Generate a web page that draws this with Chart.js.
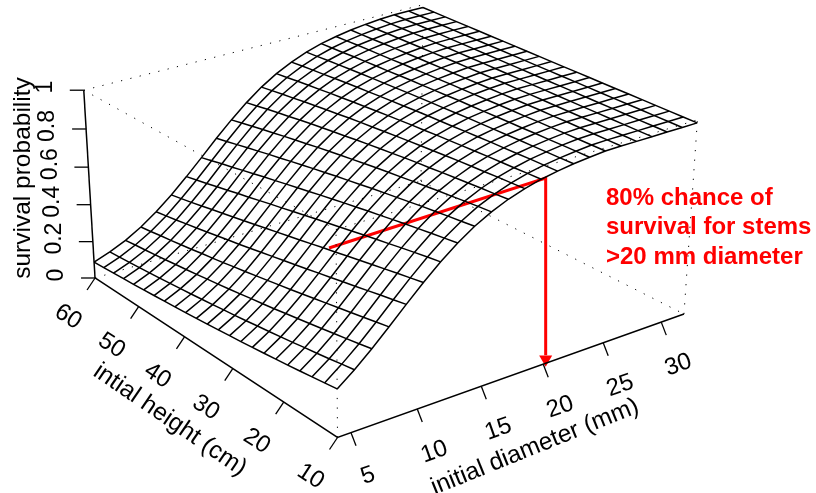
<!DOCTYPE html>
<html lang="en">
<head>
<meta charset="UTF-8">
<title>Survival probability surface</title>
<script src="https://cdn.jsdelivr.net/npm/chart.js@4/dist/chart.umd.min.js"></script>
<style>
    body { margin: 0; background: #fff; }
    canvas { display: block; }
</style>
</head>
<body>
<canvas id="myChart" width="816" height="493"></canvas>
<script>
    // values
    let diameters = [4, 5.27, 6.55, 7.82, 9.09, 10.36, 11.64, 12.91, 14.18, 15.45, 16.73, 18, 19.27, 20.55, 21.82, 23.09, 24.36, 25.64, 26.91, 28.18, 29.45, 30.73, 32];
    let heights = [60, 57.73, 55.45, 53.18, 50.91, 48.64, 46.36, 44.09, 41.82, 39.55, 37.27, 35, 32.73, 30.45, 28.18, 25.91, 23.64, 21.36, 19.09, 16.82, 14.55, 12.27, 10];

    // one row per height, one column per diameter
    let survival = [
        [.088, .118, .156, .204, .263, .331, .407, .487, .569, .646, .717, .779, .830, .871, .904, .929, .947, .962, .972, .980, .985, .985, .985],
        [.092, .124, .164, .213, .273, .343, .420, .501, .582, .659, .728, .788, .837, .877, .908, .932, .950, .963, .973, .981, .985, .985, .985],
        [.097, .130, .171, .223, .284, .355, .433, .515, .595, .671, .739, .797, .845, .883, .913, .935, .953, .965, .975, .982, .985, .985, .985],
        [.102, .136, .179, .232, .296, .368, .447, .528, .608, .683, .749, .805, .852, .888, .917, .939, .955, .967, .976, .983, .985, .985, .985],
        [.107, .142, .187, .242, .307, .381, .460, .542, .621, .694, .759, .814, .858, .894, .921, .942, .957, .969, .977, .984, .985, .985, .985],
        [.112, .149, .196, .252, .319, .394, .474, .555, .634, .706, .769, .822, .865, .899, .925, .945, .959, .970, .979, .984, .985, .985, .985],
        [.118, .156, .204, .263, .331, .407, .487, .569, .646, .717, .779, .830, .871, .904, .929, .947, .962, .972, .980, .985, .985, .985, .985],
        [.124, .164, .213, .273, .343, .420, .501, .582, .659, .728, .788, .837, .877, .908, .932, .950, .963, .973, .981, .985, .985, .985, .985],
        [.130, .171, .223, .284, .355, .433, .515, .595, .671, .739, .797, .845, .883, .913, .935, .953, .965, .975, .982, .985, .985, .985, .985],
        [.136, .179, .232, .296, .368, .447, .528, .608, .683, .749, .805, .852, .888, .917, .939, .955, .967, .976, .983, .985, .985, .985, .985],
        [.142, .187, .242, .307, .381, .460, .542, .621, .694, .759, .814, .858, .894, .921, .942, .957, .969, .977, .984, .985, .985, .985, .985],
        [.149, .196, .252, .319, .394, .474, .555, .634, .706, .769, .822, .865, .899, .925, .945, .959, .970, .979, .984, .985, .985, .985, .985],
        [.156, .204, .263, .331, .407, .487, .569, .646, .717, .779, .830, .871, .904, .929, .947, .962, .972, .980, .985, .985, .985, .985, .985],
        [.164, .213, .273, .343, .420, .501, .582, .659, .728, .788, .837, .877, .908, .932, .950, .963, .973, .981, .985, .985, .985, .985, .985],
        [.171, .223, .284, .355, .433, .515, .595, .671, .739, .797, .845, .883, .913, .935, .953, .965, .975, .982, .985, .985, .985, .985, .985],
        [.179, .232, .296, .368, .447, .528, .608, .683, .749, .805, .852, .888, .917, .939, .955, .967, .976, .983, .985, .985, .985, .985, .985],
        [.187, .242, .307, .381, .460, .542, .621, .694, .759, .814, .858, .894, .921, .942, .957, .969, .977, .984, .985, .985, .985, .985, .985],
        [.196, .252, .319, .394, .474, .555, .634, .706, .769, .822, .865, .899, .925, .945, .959, .970, .979, .984, .985, .985, .985, .985, .985],
        [.204, .263, .331, .407, .487, .569, .646, .717, .779, .830, .871, .904, .929, .947, .962, .972, .980, .985, .985, .985, .985, .985, .985],
        [.213, .273, .343, .420, .501, .582, .659, .728, .788, .837, .877, .908, .932, .950, .963, .973, .981, .985, .985, .985, .985, .985, .985],
        [.223, .284, .355, .433, .515, .595, .671, .739, .797, .845, .883, .913, .935, .953, .965, .975, .982, .985, .985, .985, .985, .985, .985],
        [.232, .296, .368, .447, .528, .608, .683, .749, .805, .852, .888, .917, .939, .955, .967, .976, .983, .985, .985, .985, .985, .985, .985],
        [.242, .307, .381, .460, .542, .621, .694, .759, .814, .858, .894, .921, .942, .957, .969, .977, .984, .985, .985, .985, .985, .985, .985]
    ];

    let diameterTicks = [5, 10, 15, 20, 25, 30];
    let heightTicks = [10, 20, 30, 40, 50, 60];
    let probabilityTicks = [0, 0.2, 0.4, 0.6, 0.8, 1];

    // the red annotation: level line along the front edge, then drop to the axis
    let redLineDiameter = [3.5, 20.2];
    let redLineProbability = [0.925, 0.93];
    let noteLines = ['80% chance of', 'survival for stems', '>20 mm diameter'];

    let dMin = 4, dMax = 32, hMin = 10, hMax = 60;

    // perspective view of the box, same idea as R's persp()
    // origin is the front corner (dMin, hMin, 0)
    function project(d, h, p) {
        let u = (d - dMin) / (dMax - dMin);
        let v = (h - hMin) / (hMax - hMin);
        let w = 1 + u * 0.0965 + v * 0.1408 - p * 0.045;
        return {
            x: 337.5 + (u * 379.9 - v * 276.6 - p * 1.43) / w,
            y: 437.5 + (-u * 135.4 - v * 181.96 - p * 198.6) / w
        };
    }

    function lineSet(points, color, width, dash) {
        return {
            type: 'line',
            data: points,
            borderColor: color,
            borderWidth: width,
            borderDash: dash || [],
            pointRadius: 0,
            tension: 0,
            fill: false,
            clip: false
        };
    }

    let datasets = [];

    // mesh
    survival.forEach((row, j) => {
        datasets.push(lineSet(row.map((p, i) => project(diameters[i], heights[j], p)), '#000', 1.5));
    });
    diameters.forEach((d, i) => {
        datasets.push(lineSet(survival.map((row, j) => project(d, heights[j], row[i])), '#000', 1.5));
    });

    // hidden box edges
    let dots = [1.2, 8.4];
    [
        [[dMin, hMin, 0], [dMin, hMin, 1]],
        [[dMax, hMin, 0], [dMax, hMin, 1]],
        [[dMax, hMax, 0], [dMax, hMax, 1]],
        [[dMin, hMax, 0], [dMax, hMax, 0]],
        [[dMax, hMax, 0], [dMax, hMin, 0]],
        [[dMin, hMax, 1], [dMax, hMax, 1]],
        [[dMin, hMax, 1], [dMin, hMin, 1]],
        [[dMin, hMin, 1], [dMax, hMin, 1]]
    ].forEach(e => {
        datasets.push(lineSet(e.map(c => project(c[0], c[1], c[2])), '#000', 1, dots));
    });

    // solid axes
    datasets.push(lineSet([project(dMin, hMax, 0), project(dMin, hMax, 1)], '#000', 1.5));
    datasets.push(lineSet([project(dMin, hMax, 0), project(dMin, hMin, 0), project(dMax, hMin, 0)], '#000', 1.5));

    // tick marks
    diameterTicks.forEach(d => {
        let a = project(d, hMin, 0);
        datasets.push(lineSet([a, { x: a.x + 5, y: a.y + 13 }], '#000', 1.3));
    });
    heightTicks.forEach(h => {
        let a = project(dMin, h, 0);
        datasets.push(lineSet([a, { x: a.x - 8, y: a.y + 12 }], '#000', 1.3));
    });
    probabilityTicks.forEach(p => {
        let a = project(dMin, hMax, p);
        datasets.push(lineSet([a, { x: a.x - 14, y: a.y }], '#000', 1.3));
    });

    // red line and arrow
    let redStart = project(redLineDiameter[0], hMin, redLineProbability[0]);
    let redFoot = project(redLineDiameter[1], hMin, 0);
    let redElbow = { x: redFoot.x, y: project(redLineDiameter[1], hMin, redLineProbability[1]).y };
    datasets.push(lineSet([redStart, redElbow, { x: redFoot.x, y: redFoot.y - 8 }], '#ff0000', 3));
    datasets.push({
        type: 'scatter',
        data: [{ x: redFoot.x, y: redFoot.y - 4 }],
        pointStyle: 'triangle',
        rotation: 180,
        radius: 7.5,
        backgroundColor: '#ff0000',
        borderColor: '#ff0000',
        borderWidth: 0,
        clip: false
    });

    function rotatedText(ctx, text, x, y, degrees) {
        ctx.save();
        ctx.translate(x, y);
        ctx.rotate(degrees * Math.PI / 180);
        ctx.fillText(text, 0, 0);
        ctx.restore();
    }

    let textPlugin = {
        id: 'axisText',
        afterDatasetsDraw(chart) {
            let ctx = chart.ctx;
            let sx = chart.scales.x, sy = chart.scales.y;
            ctx.save();
            ctx.fillStyle = '#000';
            ctx.textAlign = 'center';
            ctx.textBaseline = 'middle';
            ctx.font = '24px "Liberation Sans", Arial, sans-serif';
            diameterTicks.forEach(d => {
                let a = project(d, hMin, 0);
                rotatedText(ctx, String(d), sx.getPixelForValue(a.x + 17), sy.getPixelForValue(a.y + 43), -19.5);
            });
            heightTicks.forEach(h => {
                let a = project(dMin, h, 0);
                rotatedText(ctx, String(h), sx.getPixelForValue(a.x - 27), sy.getPixelForValue(a.y + 39), 33);
            });
            ctx.font = '23px "Liberation Sans", Arial, sans-serif';
            probabilityTicks.forEach(p => {
                let a = project(dMin, hMax, p);
                rotatedText(ctx, String(p), sx.getPixelForValue(a.x - 38), sy.getPixelForValue(a.y - 3), -90);
            });
            ctx.font = '24.5px "Liberation Sans", Arial, sans-serif';
            rotatedText(ctx, 'survival probability', 23, 178, -90);
            rotatedText(ctx, 'intial height (cm)', 170, 420, 34.5);
            rotatedText(ctx, 'initial diameter (mm)', 535, 447, -22);

            ctx.fillStyle = '#ff0000';
            ctx.textAlign = 'left';
            ctx.font = 'bold 24px "Liberation Sans", Arial, sans-serif';
            noteLines.forEach((line, i) => ctx.fillText(line, 606, 198 + i * 29.5));
            ctx.restore();
        }
    };

    let myChart = new Chart(document.getElementById('myChart').getContext('2d'), {
        type: 'line',
        data: { datasets: datasets },
        plugins: [textPlugin],
        options: {
            responsive: false,
            animation: false,
            parsing: true,
            plugins: { legend: { display: false }, tooltip: { enabled: false } },
            layout: { padding: 0, autoPadding: false },
            scales: {
                x: { type: 'linear', min: 0, max: 816, display: false },
                y: { type: 'linear', min: 0, max: 493, reverse: true, display: false }
            }
        }
    });
</script>
</body>
</html>
